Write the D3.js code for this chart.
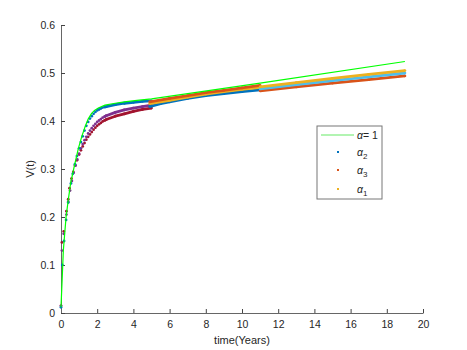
<!DOCTYPE html>
<html>
<head>
<meta charset="utf-8">
<script src="https://cdn.jsdelivr.net/npm/d3@7/dist/d3.min.js"></script>
<style>
  body { margin: 0; background: #fff; }
  text { font-family: "Liberation Sans", Arial, Helvetica, sans-serif; fill: #262626; }
</style>
</head>
<body>
<svg id="chart" width="467" height="350"></svg>
<script>
// axis ticks
const xTicks = [0, 2, 4, 6, 8, 10, 12, 14, 16, 18, 20];
const yTicks = [0, 0.1, 0.2, 0.3, 0.4, 0.5, 0.6];

// alpha = 1 (solid line)
const alphaOneLine = [[0, 0.012], [0.13, 0.131], [0.28, 0.2], [0.4, 0.235], [0.53, 0.27], [0.7, 0.3],
  [0.96, 0.343], [1.15, 0.368], [1.33, 0.388], [1.5, 0.404], [1.69, 0.416], [1.85, 0.422],
  [2.06, 0.427], [2.43, 0.433], [3, 0.437], [3.5, 0.44], [4.2, 0.443], [5, 0.446], [11, 0.479], [19, 0.524]];

// stage 1 (0 - 5 years), dotted series
const stage1Blue = [[0, 0.012], [0.07, 0.1], [0.17, 0.15], [0.28, 0.194], [0.4, 0.23], [0.55, 0.27],
  [0.65, 0.29], [0.77, 0.31], [0.88, 0.327], [1.0, 0.343], [1.1, 0.356], [1.2, 0.368], [1.3, 0.38],
  [1.4, 0.39], [1.5, 0.398], [1.6, 0.405], [1.7, 0.41], [1.8, 0.415], [1.9, 0.419], [2.0, 0.422],
  [2.1, 0.424], [2.2, 0.426], [2.3, 0.428], [2.4, 0.429], [2.5, 0.43], [3.0, 0.434], [3.5, 0.437],
  [4.0, 0.439], [4.5, 0.441], [5.0, 0.442]];
const stage1Purple = [[0, 0.015], [0.05, 0.13], [0.15, 0.165], [0.3, 0.205], [0.4, 0.232], [0.5, 0.255],
  [0.6, 0.275], [0.7, 0.292], [0.8, 0.307], [0.9, 0.32], [1.0, 0.332], [1.1, 0.343], [1.2, 0.352],
  [1.3, 0.36], [1.4, 0.367], [1.5, 0.374], [1.6, 0.38], [1.7, 0.385], [1.8, 0.39], [1.9, 0.394],
  [2.0, 0.398], [2.1, 0.401], [2.2, 0.404], [2.3, 0.407], [2.4, 0.409], [2.5, 0.411], [3.0, 0.418],
  [3.5, 0.423], [4.0, 0.427], [4.5, 0.43], [5.0, 0.433]];
const stage1DarkRed = [[0, 0.015], [0.05, 0.147], [0.15, 0.17], [0.3, 0.212], [0.4, 0.237], [0.47, 0.26],
  [0.58, 0.28], [0.68, 0.294], [0.78, 0.308], [0.88, 0.318], [1.0, 0.33], [1.1, 0.339], [1.2, 0.347],
  [1.3, 0.354], [1.4, 0.361], [1.5, 0.367], [1.6, 0.372], [1.7, 0.377], [1.8, 0.382], [1.9, 0.386],
  [2.0, 0.39], [2.1, 0.393], [2.2, 0.396], [2.3, 0.399], [2.4, 0.401], [2.5, 0.403], [3.0, 0.41],
  [3.5, 0.415], [4.0, 0.42], [4.5, 0.424], [5.0, 0.427]];

// stage 2 (5 - 11 years)
const stage2Blue = [[4.9, 0.43], [5.5, 0.436], [6, 0.44], [7, 0.447], [8, 0.453], [9, 0.457], [10, 0.461], [11, 0.465]];
const stage2Yellow = [[4.9, 0.436], [6, 0.443], [7, 0.45], [8, 0.456], [9, 0.461], [10, 0.466], [11, 0.47]];
const stage2Orange = [[4.9, 0.44], [6, 0.447], [7, 0.453], [8, 0.459], [9, 0.464], [10, 0.469], [11, 0.474]];

// stage 3 (11 - 19 years)
const stage3Orange = [[11, 0.463], [13, 0.471], [15, 0.479], [17, 0.486], [19, 0.494]];
const stage3LightBlue = [[11, 0.467], [13, 0.476], [15, 0.484], [17, 0.492], [19, 0.5]];
const stage3Yellow = [[11, 0.471], [13, 0.48], [15, 0.489], [17, 0.497], [19, 0.505]];

const legendNames = ['1', '2', '3', '1'];

const BLUE = '#0072BD', ORANGE = '#D95319', YELLOW = '#EDB120', PURPLE = '#7E2F8E',
      LBLUE = '#4DBEEE', DRED = '#A2142F', GREEN = '#00FF00';

const BAND_FROM = 2.4; // past this the dots touch each other

const svg = d3.select('#chart');
const margin = {left: 61, right: 44, top: 25, bottom: 37};
const width = 467, height = 350;

const x = d3.scaleLinear().domain([0, 20]).range([margin.left, width - margin.right]);
const y = d3.scaleLinear().domain([0, 0.6]).range([height - margin.bottom, margin.top]);

/* X axis */
const xAxis = d3.axisBottom(x).tickValues(xTicks).tickSizeInner(-4).tickSizeOuter(0).tickPadding(8)
  .tickFormat(d3.format('d'));
const gx = svg.append('g').attr('transform', 'translate(0,' + y(0) + ')').call(xAxis);

/* Y axis */
const yAxis = d3.axisLeft(y).tickValues(yTicks).tickSizeInner(-4).tickSizeOuter(0).tickPadding(6)
  .tickFormat(d => d === 0 ? '0' : d3.format('.1f')(d));
const gy = svg.append('g').attr('transform', 'translate(' + x(0) + ',0)').call(yAxis);

[gx, gy].forEach(g => {
  g.select('.domain').attr('stroke', '#666');
  g.selectAll('.tick line').attr('stroke', '#444');
  g.selectAll('.tick text').attr('font-size', '10.5px').attr('fill', '#262626')
    .attr('font-family', '"Liberation Sans", Arial, sans-serif');
});

svg.append('text').attr('x', x(10)).attr('y', 344).attr('text-anchor', 'middle')
  .attr('font-size', '11px').text('time(Years)');
svg.append('text').attr('transform', 'translate(34,' + y(0.3) + ') rotate(-90)')
  .attr('text-anchor', 'middle').attr('font-size', '11px').text('V(t)');

/* dotted series */
const line = d3.line().x(d => x(d[0])).y(d => y(d[1]));
function dots(data, color) {
  svg.append('path')
    .datum(data.filter(d => d[0] >= BAND_FROM))
    .attr('d', line).attr('fill', 'none').attr('stroke', color)
    .attr('stroke-width', 2.8).attr('stroke-linejoin', 'round');
  svg.append('g').selectAll('circle').data(data).enter().append('circle')
    .attr('cx', d => x(d[0])).attr('cy', d => y(d[1])).attr('r', 1.4).attr('fill', color);
}

dots(stage1DarkRed, DRED);
dots(stage1Purple, PURPLE);
dots(stage1Blue, BLUE);
dots(stage2Blue, BLUE);
dots(stage2Yellow, YELLOW);
dots(stage2Orange, ORANGE);
dots(stage3Orange, ORANGE);
dots(stage3LightBlue, LBLUE);
dots(stage3Yellow, YELLOW);

svg.append('path').datum(alphaOneLine).attr('d', line)
  .attr('fill', 'none').attr('stroke', GREEN).attr('stroke-width', 1.2);

/* Legend */
const lg = svg.append('g').attr('transform', 'translate(317,126)');
lg.append('rect').attr('width', 65).attr('height', 73)
  .attr('fill', '#fff').attr('stroke', '#777').attr('stroke-width', 1);
const rowY = [9, 26, 44, 63];
const legendColors = [GREEN, BLUE, ORANGE, YELLOW];
lg.append('line').attr('x1', 4).attr('x2', 37).attr('y1', rowY[0]).attr('y2', rowY[0])
  .attr('stroke', '#99F099').attr('stroke-width', 1.6);
legendColors.slice(1).forEach((c, i) => {
  lg.append('rect').attr('x', 20).attr('y', rowY[i + 1] - 1).attr('width', 2).attr('height', 2).attr('fill', c);
});
legendNames.forEach((n, i) => {
  const t = lg.append('text').attr('x', 40).attr('y', rowY[i] + 4).attr('font-size', '10.5px');
  t.append('tspan').attr('font-style', 'italic').text('α');
  if (i === 0) {
    t.append('tspan').text('= ' + n);
  } else {
    t.append('tspan').attr('font-size', '8px').attr('dy', 3).text(n);
  }
});
</script>
</body>
</html>
